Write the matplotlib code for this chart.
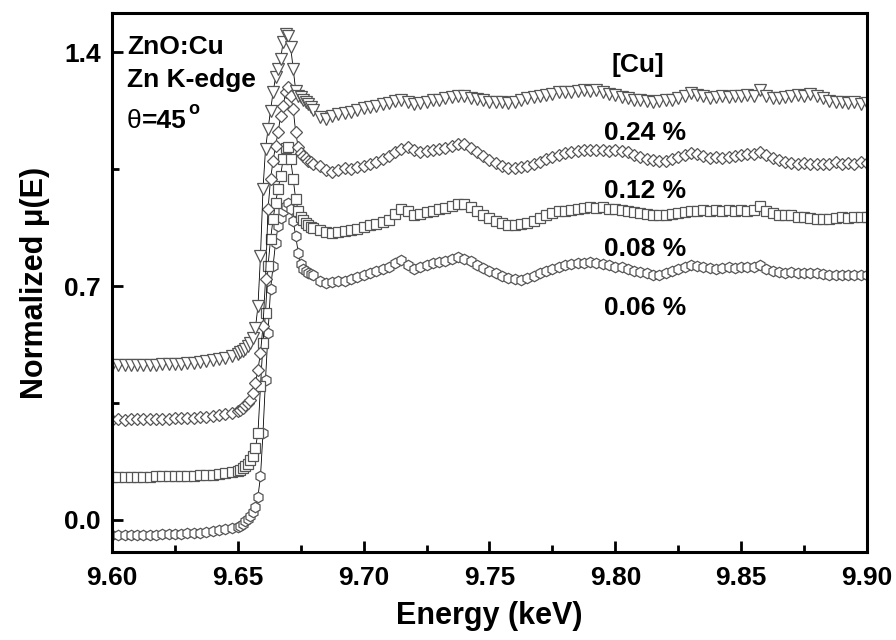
import matplotlib
matplotlib.use("Agg")
import matplotlib.pyplot as plt
from matplotlib.ticker import MultipleLocator, FormatStrFormatter

# energy grid (keV)
energy_pre = [9.6000, 9.6025, 9.6050, 9.6075, 9.6100, 9.6125, 9.6150, 9.6175, 9.6200, 9.6225,
              9.6250, 9.6275, 9.6300, 9.6325, 9.6350, 9.6375, 9.6400, 9.6425, 9.6450, 9.6475, 9.6500]
energy_edge = [9.651, 9.652, 9.653, 9.654, 9.655, 9.656, 9.657, 9.658, 9.659, 9.660,
               9.661, 9.662, 9.663, 9.664, 9.665, 9.666, 9.667, 9.668, 9.669, 9.670,
               9.671, 9.672, 9.673, 9.674, 9.675, 9.676, 9.677, 9.678, 9.679, 9.680]
energy_post = [9.6825, 9.6850, 9.6875, 9.6900, 9.6925, 9.6950, 9.6975, 9.7000, 9.7025, 9.7050,
               9.7075, 9.7100, 9.7125, 9.7150, 9.7175, 9.7200, 9.7225, 9.7250, 9.7275, 9.7300,
               9.7325, 9.7350, 9.7375, 9.7400, 9.7425, 9.7450, 9.7475, 9.7500, 9.7525, 9.7550,
               9.7575, 9.7600, 9.7625, 9.7650, 9.7675, 9.7700, 9.7725, 9.7750, 9.7775, 9.7800,
               9.7825, 9.7850, 9.7875, 9.7900, 9.7925, 9.7950, 9.7975, 9.8000, 9.8025, 9.8050,
               9.8075, 9.8100, 9.8125, 9.8150, 9.8175, 9.8200, 9.8225, 9.8250, 9.8275, 9.8300,
               9.8325, 9.8350, 9.8375, 9.8400, 9.8425, 9.8450, 9.8475, 9.8500, 9.8525, 9.8550,
               9.8575, 9.8600, 9.8625, 9.8650, 9.8675, 9.8700, 9.8725, 9.8750, 9.8775, 9.8800,
               9.8825, 9.8850, 9.8875, 9.8900, 9.8925, 9.8950, 9.8975, 9.9000]
energy = energy_pre + energy_edge + energy_post

# normalized mu(E), stacked with offsets as in the figure
mu_024 = [0.463, 0.463, 0.464, 0.463, 0.464, 0.464, 0.465, 0.465, 0.466, 0.466,
          0.467, 0.468, 0.469, 0.471, 0.473, 0.475, 0.478, 0.482, 0.486, 0.491, 0.498,
          0.502, 0.507, 0.513, 0.520, 0.530, 0.545, 0.575, 0.640, 0.790, 0.990,
          1.110, 1.170, 1.225, 1.280, 1.325, 1.350, 1.380, 1.430, 1.455, 1.450,
          1.415, 1.350, 1.285, 1.270, 1.265, 1.258, 1.250, 1.245, 1.235, 1.228,
          1.205, 1.200, 1.208, 1.214, 1.218, 1.222, 1.228, 1.232, 1.236, 1.240,
          1.244, 1.248, 1.254, 1.258, 1.252, 1.246, 1.248, 1.252, 1.256, 1.258,
          1.262, 1.266, 1.270, 1.268, 1.264, 1.260, 1.256, 1.252, 1.250, 1.252,
          1.248, 1.250, 1.256, 1.262, 1.265, 1.268, 1.272, 1.275, 1.280, 1.282,
          1.280, 1.284, 1.286, 1.284, 1.286, 1.280, 1.276, 1.272, 1.266, 1.262,
          1.258, 1.256, 1.254, 1.252, 1.255, 1.258, 1.256, 1.262, 1.270, 1.277,
          1.272, 1.268, 1.264, 1.265, 1.268, 1.266, 1.270, 1.268, 1.272, 1.270,
          1.288, 1.268, 1.264, 1.262, 1.266, 1.268, 1.272, 1.270, 1.274, 1.270,
          1.262, 1.254, 1.250, 1.252, 1.248, 1.250, 1.246, 1.247]
mu_012 = [0.300, 0.301, 0.300, 0.301, 0.301, 0.302, 0.302, 0.302, 0.303, 0.303,
          0.304, 0.304, 0.305, 0.306, 0.307, 0.309, 0.311, 0.314, 0.317, 0.321, 0.326,
          0.330, 0.336, 0.343, 0.350, 0.360, 0.380, 0.410, 0.450, 0.500, 0.580,
          0.720, 0.930, 1.020, 1.075, 1.120, 1.160, 1.210, 1.240, 1.280, 1.295,
          1.270, 1.230, 1.160, 1.115, 1.098, 1.088, 1.083, 1.075, 1.070, 1.066,
          1.060, 1.048, 1.042, 1.046, 1.052, 1.050, 1.056, 1.060, 1.064, 1.070,
          1.080, 1.090, 1.102, 1.110, 1.116, 1.108, 1.100, 1.104, 1.106, 1.110,
          1.114, 1.120, 1.126, 1.124, 1.112, 1.102, 1.090, 1.078, 1.068, 1.060,
          1.054, 1.052, 1.056, 1.060, 1.064, 1.072, 1.080, 1.086, 1.092, 1.098,
          1.100, 1.104, 1.106, 1.108, 1.106, 1.108, 1.104, 1.106, 1.104, 1.100,
          1.092, 1.086, 1.080, 1.078, 1.074, 1.074, 1.080, 1.086, 1.092, 1.098,
          1.094, 1.088, 1.084, 1.086, 1.083, 1.086, 1.090, 1.092, 1.094, 1.096,
          1.100, 1.092, 1.084, 1.078, 1.072, 1.068, 1.066, 1.068, 1.064, 1.066,
          1.064, 1.066, 1.070, 1.066, 1.068, 1.066, 1.070, 1.068]
mu_008 = [0.128, 0.128, 0.129, 0.128, 0.129, 0.129, 0.129, 0.130, 0.130, 0.130,
          0.131, 0.131, 0.132, 0.132, 0.133, 0.134, 0.135, 0.137, 0.139, 0.142, 0.146,
          0.150, 0.155, 0.161, 0.168, 0.178, 0.192, 0.215, 0.260, 0.400, 0.530,
          0.620, 0.760, 0.840, 0.900, 0.950, 0.990, 1.030, 1.080, 1.112, 1.116,
          1.080, 1.020, 0.960, 0.925, 0.908, 0.898, 0.890, 0.884, 0.878, 0.874,
          0.868, 0.862, 0.858, 0.862, 0.866, 0.868, 0.872, 0.876, 0.882, 0.886,
          0.892, 0.898, 0.916, 0.932, 0.924, 0.912, 0.916, 0.922, 0.926, 0.930,
          0.934, 0.940, 0.946, 0.946, 0.936, 0.924, 0.914, 0.904, 0.894, 0.888,
          0.884, 0.882, 0.886, 0.890, 0.896, 0.904, 0.912, 0.920, 0.924, 0.926,
          0.928, 0.932, 0.934, 0.936, 0.934, 0.936, 0.932, 0.930, 0.928, 0.926,
          0.922, 0.918, 0.916, 0.912, 0.912, 0.914, 0.916, 0.918, 0.921, 0.924,
          0.926, 0.928, 0.926, 0.928, 0.926, 0.928, 0.926, 0.927, 0.926, 0.928,
          0.940, 0.924, 0.918, 0.914, 0.912, 0.912, 0.908, 0.906, 0.904, 0.902,
          0.900, 0.902, 0.904, 0.906, 0.904, 0.906, 0.908, 0.906]
mu_006 = [-0.046, -0.046, -0.045, -0.045, -0.045, -0.045, -0.044, -0.044, -0.043, -0.043,
          -0.042, -0.041, -0.040, -0.039, -0.038, -0.036, -0.034, -0.031, -0.028, -0.025, -0.021,
          -0.017, -0.011, -0.004, 0.003, 0.012, 0.025, 0.040, 0.070, 0.130, 0.260,
          0.420, 0.560, 0.690, 0.760, 0.830, 0.880, 0.905, 0.925, 0.940, 0.948,
          0.932, 0.895, 0.850, 0.800, 0.765, 0.752, 0.745, 0.740, 0.736, 0.732,
          0.716, 0.710, 0.712, 0.714, 0.716, 0.720, 0.726, 0.734, 0.740, 0.746,
          0.752, 0.758, 0.770, 0.778, 0.764, 0.750, 0.756, 0.762, 0.768, 0.772,
          0.776, 0.782, 0.786, 0.782, 0.774, 0.764, 0.754, 0.746, 0.738, 0.730,
          0.724, 0.720, 0.718, 0.724, 0.730, 0.738, 0.746, 0.752, 0.758, 0.764,
          0.766, 0.768, 0.770, 0.772, 0.770, 0.766, 0.762, 0.758, 0.756, 0.752,
          0.746, 0.742, 0.738, 0.734, 0.733, 0.738, 0.744, 0.750, 0.756, 0.762,
          0.760, 0.758, 0.755, 0.752, 0.754, 0.756, 0.754, 0.756, 0.758, 0.756,
          0.762, 0.752, 0.744, 0.742, 0.740, 0.742, 0.740, 0.738, 0.740, 0.738,
          0.736, 0.734, 0.734, 0.732, 0.734, 0.732, 0.734, 0.733]

series = [mu_006, mu_008, mu_012, mu_024]
markers = ['h', 's', 'D', 'v']
msizes = [7.5, 6.5, 6.5, 8]
conc_labels = ['0.06 %', '0.08 %', '0.12 %', '0.24 %']
label_y = [0.634, 0.81, 0.984, 1.158]

plt.rcParams['font.family'] = ['Liberation Sans', 'DejaVu Sans']

fig = plt.figure(figsize=(8.96, 6.4), dpi=100)
ax = fig.add_axes([0.125, 0.1375, 0.8426, 0.842])

for mu, m, ms in zip(series, markers, msizes):
    ax.plot(energy, mu, color='black', lw=0.6, marker=m, ms=ms,
            mfc='white', mec='#555555', mew=0.9)

ax.text(9.809, 1.361, '[Cu]', fontsize=19, fontweight='bold',
        ha='center', va='center')
for txt, yy in zip(conc_labels, label_y):
    ax.text(9.812, yy, txt, fontsize=19, fontweight='bold',
            ha='center', va='center')

ax.text(0.02, 0.937, 'ZnO:Cu', transform=ax.transAxes, fontsize=19,
        fontweight='bold', va='center')
ax.text(0.02, 0.876, 'Zn K-edge', transform=ax.transAxes, fontsize=19,
        fontweight='bold', va='center')
th = ax.text(0.02, 0.80, 'θ', transform=ax.transAxes, fontsize=19, va='center')
eq = ax.annotate('=45', xy=(1, 0.5), xycoords=th, fontsize=19,
                 fontweight='bold', va='center')
ax.annotate('o', xy=(1, 0.5), xycoords=eq, xytext=(1.5, 2), textcoords='offset points',
            fontsize=13, fontweight='bold', va='bottom')

ax.set_xlim(9.60, 9.90)
ax.set_ylim(-0.096, 1.517)
ax.xaxis.set_major_locator(MultipleLocator(0.05))
ax.xaxis.set_minor_locator(MultipleLocator(0.025))
ax.yaxis.set_major_locator(MultipleLocator(0.7))
ax.yaxis.set_minor_locator(MultipleLocator(0.35))
ax.xaxis.set_major_formatter(FormatStrFormatter('%.2f'))
ax.yaxis.set_major_formatter(FormatStrFormatter('%.1f'))
ax.tick_params(which='both', direction='in', width=2)
ax.tick_params(which='major', length=8, labelsize=19)
ax.tick_params(axis='x', which='major', pad=10)
ax.tick_params(axis='y', which='major', pad=8)
ax.tick_params(which='minor', length=5)
for lab in ax.get_xticklabels() + ax.get_yticklabels():
    lab.set_fontweight('bold')
for sp in ax.spines.values():
    sp.set_linewidth(2.2)

ax.set_xlabel('Energy (keV)', fontsize=22, fontweight='bold', labelpad=8)
ax.set_ylabel('Normalized μ(E)', fontsize=22, fontweight='bold', labelpad=10)

fig.savefig('out.png', dpi=100)
